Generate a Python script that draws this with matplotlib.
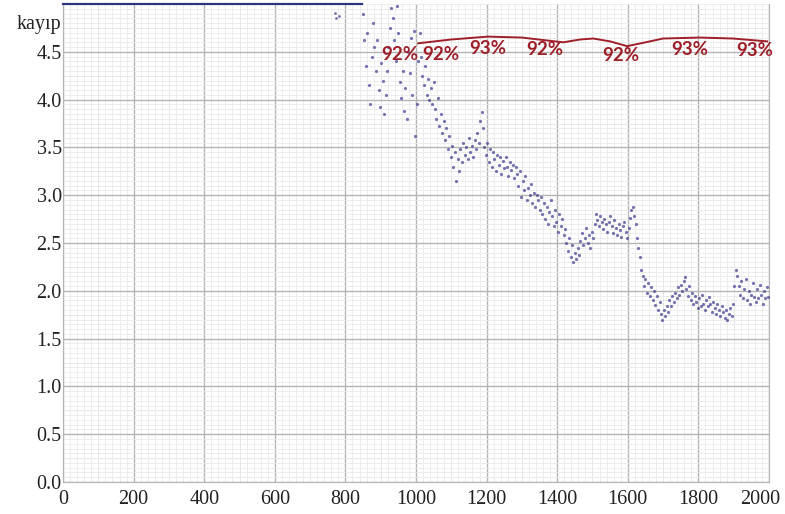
import numpy as np
import matplotlib.pyplot as plt
import matplotlib.transforms as mtransforms

from matplotlib.ticker import MultipleLocator


# Loss before step ~850 sits above the plotted range, drawn as a capped line.
capped_steps = [0, 848]
capped_loss = [5.0, 5.0]

# A few stray evaluations before the loss drops into range.
early_steps = [770, 774, 782]
early_loss = [4.91, 4.85, 4.88]

# Loss per logged step, every 4 steps from 850 to 1998.
loss_steps = np.arange(850, 2000, 4)
loss = [
    4.90, 4.62, 4.35, 4.70, 4.15, 3.95, 4.45, 4.80, 4.55, 4.30,
    4.62, 4.10, 3.92, 4.38, 4.20, 3.85, 4.05, 4.30, 4.55, 4.75,
    4.96, 4.85, 4.62, 4.40, 4.98, 4.70, 4.18, 4.02, 4.30, 3.88,
    4.12, 3.80, 4.50, 4.28, 4.65, 4.05, 4.72, 3.62, 3.95, 4.40,
    4.70, 4.45, 4.25, 4.15, 4.35, 4.05, 4.22, 4.00, 4.12, 3.95,
    4.18, 3.90, 3.80, 4.02, 3.72, 3.85, 3.65, 3.78, 3.58, 3.70,
    3.48, 3.62, 3.40, 3.52, 3.30, 3.45, 3.15, 3.38, 3.25, 3.48,
    3.35, 3.55, 3.42, 3.50, 3.38, 3.60, 3.45, 3.52, 3.40, 3.58,
    3.48, 3.65, 3.55, 3.78, 3.87, 3.70, 3.50, 3.42, 3.55, 3.35,
    3.48, 3.30, 3.45, 3.38, 3.25, 3.42, 3.32, 3.40, 3.22, 3.36,
    3.28, 3.40, 3.30, 3.20, 3.35, 3.26, 3.32, 3.18, 3.30, 3.22,
    3.10, 3.25, 2.98, 3.15, 3.05, 3.20, 2.95, 3.08, 3.00, 3.12,
    2.92, 3.02, 2.88, 3.00, 2.95, 2.85, 2.98, 2.80, 2.92, 2.75,
    2.88, 2.70, 2.82, 2.95, 2.78, 2.68, 2.85, 2.72, 2.62, 2.80,
    2.68, 2.75, 2.58, 2.65, 2.50, 2.42, 2.55, 2.35, 2.48, 2.30,
    2.40, 2.33, 2.45, 2.38, 2.52, 2.60, 2.48, 2.55, 2.66, 2.50,
    2.58, 2.45, 2.62, 2.55, 2.70, 2.80, 2.74, 2.68, 2.78, 2.72,
    2.65, 2.75, 2.70, 2.62, 2.72, 2.78, 2.68, 2.60, 2.74, 2.66,
    2.58, 2.70, 2.64, 2.56, 2.68, 2.72, 2.62, 2.55, 2.66, 2.76,
    2.85, 2.88, 2.78, 2.70, 2.55, 2.45, 2.35, 2.22, 2.15, 2.05,
    2.12, 1.98, 2.08, 1.95, 2.04, 1.90, 2.00, 1.85, 1.95, 1.80,
    1.88, 1.76, 1.70, 1.80, 1.74, 1.84, 1.78, 1.90, 1.84, 1.95,
    1.88, 1.98, 1.92, 2.04, 1.96, 2.06, 2.00, 2.10, 2.14, 2.02,
    1.95, 2.05, 1.90, 1.98, 1.86, 1.95, 1.88, 1.82, 1.92, 1.84,
    1.96, 1.86, 1.80, 1.90, 1.84, 1.94, 1.86, 1.78, 1.88, 1.82,
    1.76, 1.86, 1.80, 1.74, 1.84, 1.78, 1.72, 1.80, 1.70, 1.76,
    1.82, 1.74, 1.86, 2.05, 2.22, 2.15, 2.05, 1.96, 2.10, 1.92,
    2.02, 2.12, 1.90, 2.00, 1.86, 1.96, 2.08, 1.94, 1.88, 2.02,
    1.92, 2.06, 1.96, 1.86, 2.00, 1.92, 2.04, 1.94,
]

# Accuracy trace, drawn on the loss axis just under the top edge.
acc_steps = [1006, 1100, 1204, 1300, 1417, 1465, 1502, 1550,
             1598, 1650, 1700, 1805, 1898, 1995]
acc_trace = [4.59, 4.63, 4.66, 4.65, 4.60, 4.63, 4.64, 4.61,
             4.56, 4.60, 4.64, 4.65, 4.64, 4.61]

acc_labels = ['92%', '92%', '93%', '92%', '92%', '93%', '93%']
acc_label_steps = [955, 1071, 1204, 1365, 1581, 1776, 1960]
acc_label_y = [4.47, 4.47, 4.54, 4.52, 4.46, 4.53, 4.51]

x_ticks = [0, 200, 400, 600, 800, 1000, 1200, 1400, 1600, 1800, 2000]
y_ticks = [0.0, 0.5, 1.0, 1.5, 2.0, 2.5, 3.0, 3.5, 4.0, 4.5]


def draw_loss(file_name: str = 'out.png') -> None:
    fig = plt.figure(figsize=(7.85, 5.14), dpi=100)
    ax = fig.add_axes([0.0803, 0.0623, 0.8993, 0.9297])

    navy = '#3b3b8e'
    ax.plot(
        capped_steps,
        capped_loss,
        color='#2e3380',
        lw=1.6,
        clip_on=False,
        zorder=4)
    ax.plot(
        early_steps,
        early_loss,
        'o',
        color=navy,
        ms=2.0,
        alpha=0.7,
        mec='none')
    ax.plot(
        loss_steps,
        loss,
        'o',
        color=navy,
        ms=2.3,
        alpha=0.7,
        mec='none',
        zorder=3)

    red = '#9e1f29'
    ax.plot(
        acc_steps,
        acc_trace,
        color=red,
        lw=1.4,
        zorder=4)
    for step, yval, text in zip(acc_label_steps, acc_label_y, acc_labels):
        ax.text(
            step,
            yval,
            text,
            ha='center',
            va='center',
            fontsize=13.5,
            fontweight='bold',
            family=['Lato', 'DejaVu Sans'],
            color=red,
            zorder=5)

    ax.set_xlim(0, 2000)
    ax.set_ylim(0, 5.0)
    ax.set_xticks(x_ticks)
    ax.set_yticks(y_ticks)
    ax.set_xticklabels([str(t) for t in x_ticks])
    ax.set_yticklabels(['%.1f' % t for t in y_ticks])
    ax.xaxis.set_minor_locator(MultipleLocator(20))
    ax.yaxis.set_minor_locator(MultipleLocator(0.05))

    ax.grid(True, which='major', color='#b4b4b4', lw=1.0, zorder=0)
    ax.grid(True, which='minor', color='#eaeaea', lw=0.6, zorder=0)
    for x in np.arange(100, 2000, 200):
        ax.axvline(x, color='#d8d8d8', lw=0.7, zorder=0)
    for y in np.arange(0.25, 5.0, 0.5):
        ax.axhline(y, color='#d8d8d8', lw=0.7, zorder=0)
    ax.set_axisbelow(True)

    for side in ['left', 'bottom', 'right']:
        ax.spines[side].set_color('#b4b4b4')
    ax.spines['top'].set_visible(False)

    ax.tick_params(
        axis='both',
        which='both',
        length=0,
        colors='#222222',
        labelsize=14.5)
    ax.tick_params(axis='x', pad=6)
    ax.tick_params(axis='y', pad=1)
    for lab in ax.get_xticklabels() + ax.get_yticklabels():
        lab.set_family('Liberation Serif')

    # keep the last step label inside the figure edge
    last = ax.get_xticklabels()[-1]
    last.set_transform(last.get_transform() + mtransforms.ScaledTranslation(
        -9 / 100, 0, fig.dpi_scale_trans))

    ax.text(
        -4,
        4.79,
        'kayıp',
        ha='right',
        va='center',
        fontsize=14.5,
        family='Liberation Serif',
        color='#222222',
        clip_on=False)

    fig.savefig(file_name, dpi=100)


if __name__ == '__main__':
    draw_loss('out.png')
